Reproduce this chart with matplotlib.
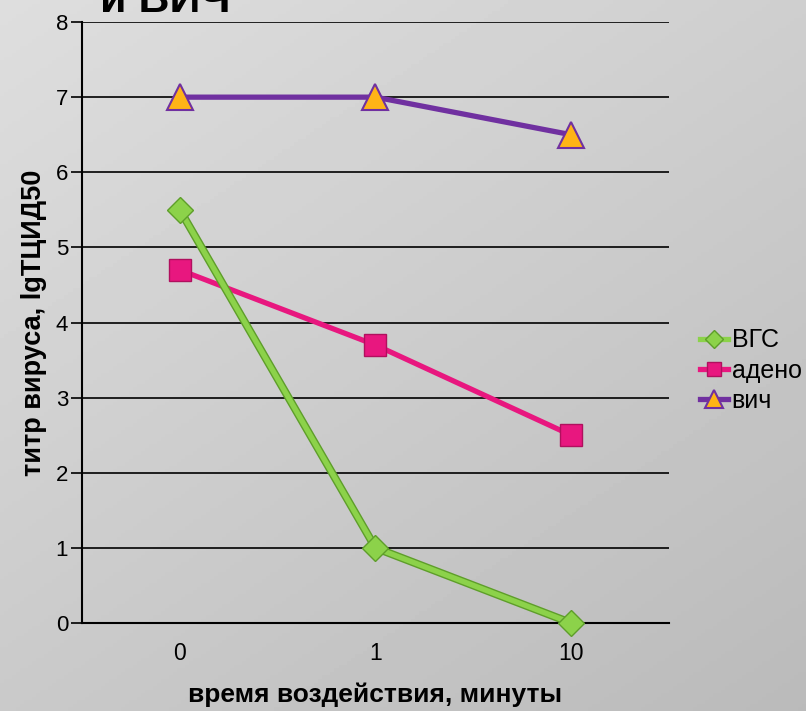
import numpy as np
import matplotlib
matplotlib.use("Agg")
import matplotlib.pyplot as plt

categories = ["0", "1", "10"]
y_ticks = [0, 1, 2, 3, 4, 5, 6, 7, 8]
vgs = [5.5, 1.0, 0.0]
adeno = [4.7, 3.7, 2.5]
vich = [7.0, 7.0, 6.5]

plt.rcParams['font.family'] = ['Liberation Sans', 'DejaVu Sans']

fig = plt.figure(figsize=(8.06, 7.11), dpi=100)

# gradient gray backdrop
bg = fig.add_axes([0, 0, 1, 1], zorder=-10)
yy, xx = np.mgrid[0:1:200j, 0:1:200j]
grad = 0.87 - 0.06 * xx - 0.08 * yy
bg.imshow(grad, cmap="gray", vmin=0, vmax=1, extent=[0, 1, 0, 1], aspect="auto", origin="upper")
bg.axis("off")

ax = fig.add_axes([0.1017, 0.1238, 0.7283, 0.8452])
ax.patch.set_alpha(0)
x = np.arange(len(categories))

# darker rim under the green line
ax.plot(x, vgs, color="#5e9e2a", lw=5.8, zorder=4.9, clip_on=False, solid_capstyle="round")
ax.plot(x, vgs, color="#8cd24a", lw=3.8, marker="D", ms=13.5, mfc="#8cd24a", mec="#5e9e2a", mew=1,
        label="ВГС", zorder=5, clip_on=False)
ax.plot(x, adeno, color="#e8177f", lw=3.8, marker="s", ms=16.5, mfc="#e8177f", mec="#b0105e", mew=1,
        label="адено", zorder=4, clip_on=False)
ax.plot(x, vich, color="#7030a0", lw=3.8, marker="^", ms=19, mfc="#ffb416", mec="#7030a0", mew=1.5,
        label="вич", zorder=3, clip_on=False)

ax.set_xlim(-0.5, 2.5)
ax.set_ylim(0, 8)
ax.set_xticks(x)
ax.set_xticklabels(categories)
ax.set_yticks(y_ticks)
ax.yaxis.grid(True, color="black", lw=1.2)
ax.set_axisbelow(True)
for s in ["top", "right"]:
    ax.spines[s].set_visible(False)
ax.spines["left"].set_linewidth(1.5)
ax.spines["bottom"].set_linewidth(1.5)
ax.tick_params(axis="y", length=8, width=1.2, labelsize=16, pad=2)
ax.tick_params(axis="x", length=0, labelsize=16.5, pad=14)

ax.set_xlabel("время воздействия, минуты", fontsize=19, fontweight="bold", labelpad=12)
ax.set_ylabel("титр вируса, lgТЦИД50", fontsize=19.5, fontweight="bold", labelpad=6)

fig.text(0.205, 0.983, "и ВИЧ", fontsize=31, fontweight="bold", ha="center", va="baseline")

ax.legend(loc="center left", bbox_to_anchor=(1.015, 0.42), frameon=False, fontsize=18,
          handlelength=1.1, handletextpad=0.15, labelspacing=0.25, markerscale=0.65)

fig.savefig("out.png", dpi=100)
